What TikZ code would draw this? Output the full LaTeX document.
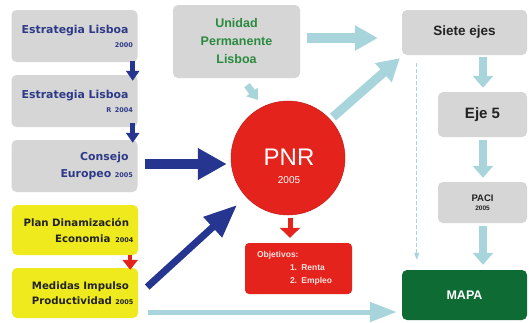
\documentclass[tikz,border=0pt]{standalone}
\usepackage{fontspec}
\setmainfont{Liberation Sans}
\newfontfamily\dvfont{DejaVu Sans}
\usetikzlibrary{arrows.meta,calc}
\definecolor{boxgray}{HTML}{D6D6D6}
\definecolor{navytext}{HTML}{2E3A87}
\definecolor{navyarrow}{HTML}{26358F}
\definecolor{yellowc}{HTML}{EEEA1E}
\definecolor{darktext}{HTML}{222222}
\definecolor{redc}{HTML}{E5231D}
\definecolor{lightblue}{HTML}{A8D5DC}
\definecolor{greentext}{HTML}{2A8A3E}
\definecolor{mapagreen}{HTML}{0E6B33}
\definecolor{objtext}{HTML}{FDE3E0}
\newcommand\rpad{\rightskip=4.5pt\relax\hyphenpenalty=10000\relax}
\begin{document}
\begin{tikzpicture}[x=1pt,y=-1pt,
  lbox/.style={rectangle, rounded corners=5pt, fill=boxgray, text width=117pt, align=right,
    inner xsep=4.5pt, inner ysep=0pt, minimum height=52pt, text=navytext,
    font=\dvfont\bfseries\fontsize{10.9}{13}\selectfont},
  ybox/.style={lbox, fill=yellowc, text=darktext, minimum height=50pt,
    font=\dvfont\bfseries\fontsize{10.2}{12.5}\selectfont},
  gbox/.style={rectangle, rounded corners=5pt, fill=boxgray, inner sep=0pt, align=center,
    text=darktext, font=\bfseries},
  navyarr/.style={draw=navyarrow, line width=#1},
  bluearr/.style={draw=lightblue, line width=#1},
  redarr/.style={draw=redc, line width=#1}
]
\fill[white] (0,0) rectangle (529,322);
\useasboundingbox (0,0) rectangle (529,322);

% left column
\node[lbox] (box1) at (74.5,36) {\rpad Estrategia Lisboa\\[1pt]{\fontsize{6.5}{7}\selectfont 2000}};
\node[lbox] (box2) at (74.5,101) {\rpad Estrategia Lisboa\\[1pt]{\fontsize{6.5}{7}\selectfont R 2004}};
\node[lbox] (consejo) at (74.5,166) {\rpad Consejo\\[4pt]Europeo {\fontsize{6.5}{7}\selectfont 2005}};
\node[ybox] (plan) at (75,230) {\rpad Plan Dinamización\\[3.5pt]Economia\hspace{5pt}{\fontsize{6.5}{7}\selectfont 2004}};
\node[ybox] (medidas) at (75,293) {\rpad Medidas Impulso\\[2.5pt]Productividad {\fontsize{6.5}{7}\selectfont 2005}};

% centre
\node[gbox, minimum width=127pt, minimum height=73pt, text=greentext,
  font=\bfseries\fontsize{12.5}{18}\selectfont] (unidad) at (236.5,41.5) {Unidad\\Permanente\\Lisboa};
\node[circle, fill=redc, draw=redc!85!black, line width=0.5pt, minimum size=114pt, inner sep=0pt] (pnr) at (288,158) {};
\node[text=white, align=center, inner sep=0pt] (pnrtext) at (289,166)
  {{\fontsize{24}{24}\selectfont PNR}\\[6pt]{\fontsize{10}{10}\selectfont 2005}};
\node[rectangle, rounded corners=4pt, fill=redc, text=objtext, text width=83pt, align=left,
  inner xsep=12pt, inner ysep=0pt, minimum height=51pt,
  font=\bfseries\fontsize{8.5}{13}\selectfont] (obj) at (298.5,268.5)
  {Objetivos:\\\hspace*{33pt}1. Renta\\\hspace*{33pt}2. Empleo};

% right column
\node[gbox, minimum width=125pt, minimum height=45pt, font=\bfseries\fontsize{13.5}{15}\selectfont] (siete) at (464.5,32.5) {Siete ejes};
\node[gbox, minimum width=89pt, minimum height=45pt, font=\bfseries\fontsize{15}{17}\selectfont] (eje5) at (482.5,114.5) {Eje 5};
\node[gbox, minimum width=89pt, minimum height=41pt, font=\bfseries\fontsize{9.5}{9}\selectfont] (paci) at (482.5,202.5) {PACI\\{\fontsize{6.5}{7}\selectfont 2005}};
\node[rectangle, rounded corners=5pt, fill=mapagreen, text=white, minimum width=125pt, minimum height=50pt,
  inner sep=0pt, font=\bfseries\fontsize{12.5}{14}\selectfont] (mapa) at (464.5,295) {MAPA};

% navy arrows
\draw[navyarr=5pt, -{Triangle[length=10pt,width=13pt]}] ($(box1.south east)+(-5,-1)$) -- ($(box2.north east)+(-5,6)$);
\draw[navyarr=5pt, -{Triangle[length=10pt,width=13pt]}] ($(box2.south east)+(-5,-4)$) -- ($(consejo.north east)+(-5,3)$);
\draw[navyarr=10pt, -{Triangle[length=29pt,width=30pt]}] ($(consejo.east)+(7,-2)$) -- ($(pnr.west)+(-4,6)$);
\draw[navyarr=7pt, -{Triangle[length=33pt,width=26pt]}] ($(medidas.east)+(9,-6)$) -- ($(pnr.center)+(-51,47)$);

% red arrows
\draw[redarr=4pt, -{Triangle[length=10pt,width=15pt]}] ($(plan.south east)+(-8,0)$) -- ($(medidas.north east)+(-8,2)$);
\draw[redarr=5pt, -{Triangle[length=10pt,width=20pt]}] ($(pnr.south)+(2,3)$) -- ($(obj.north)+(-8.5,-5)$);

% light blue arrows
\draw[bluearr=10pt, -{Triangle[length=23pt,width=24pt]}] ($(unidad.east)+(7,-3.5)$) -- ($(siete.west)+(-24,5.5)$);
\draw[bluearr=9pt, -{Triangle[length=22pt,width=24pt]}] ($(pnr.center)+(45,-41)$) -- ($(siete.south west)+(-2,3)$);
\draw[bluearr=7pt, -{Triangle[length=10pt,width=14pt]}] ($(unidad.south)+(10.5,7)$) -- ($(pnr.center)+(-30,-58)$);
\draw[bluearr=8pt, -{Triangle[length=12pt,width=20pt]}] ($(siete.south)+(18.5,2)$) -- ($(eje5.north)+(0.5,-4)$);
\draw[bluearr=8pt, -{Triangle[length=12pt,width=20pt]}] ($(eje5.south)+(0.5,3)$) -- ($(paci.north)+(0.5,-4)$);
\draw[bluearr=8pt, -{Triangle[length=12pt,width=20pt]}] ($(paci.south)+(0.5,3)$) -- ($(mapa.north)+(18.5,-5)$);
\draw[bluearr=5pt, -{Triangle[length=27pt,width=19pt]}] ($(medidas.east)+(10,19)$) -- ($(mapa.west)+(-5,17)$);
\draw[draw=lightblue, line width=1.2pt, dash pattern=on 4pt off 2pt, -{Triangle[length=7pt,width=5pt]}]
  ($(siete.south west)+(15,8)$) -- ($(mapa.north west)+(15,-10)$);
\end{tikzpicture}
\end{document}
